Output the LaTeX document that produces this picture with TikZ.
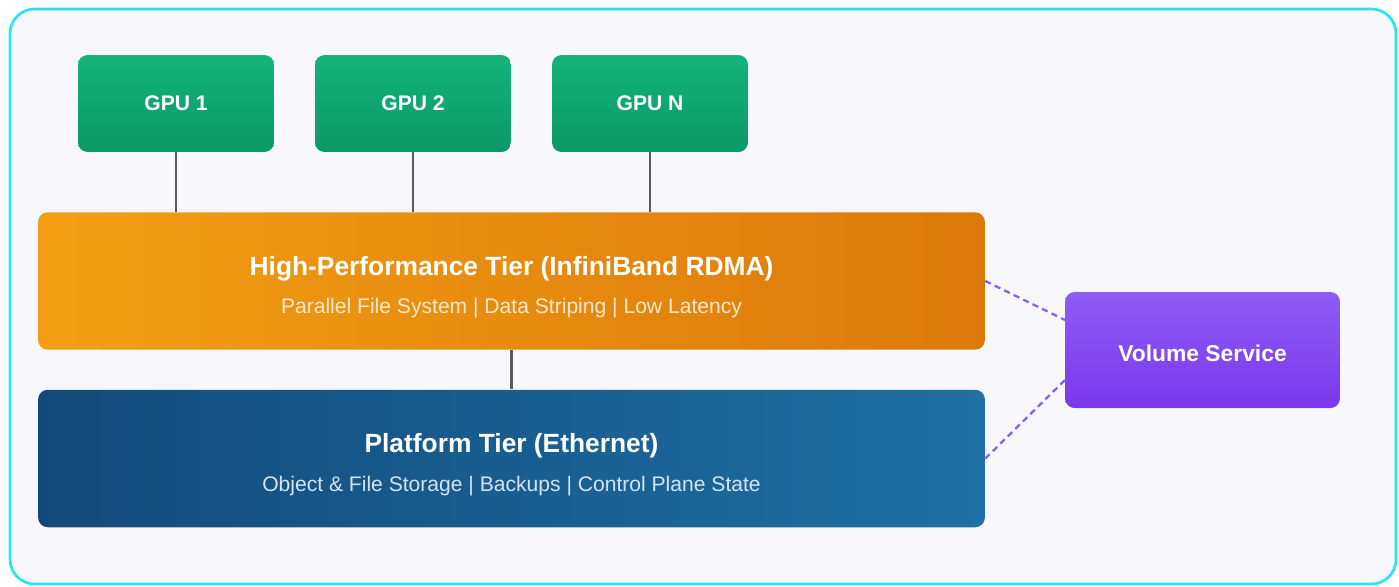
\documentclass[tikz,border=0pt]{standalone}
\usepackage{fontspec}
\setmainfont{Liberation Sans}
\definecolor{gpuTop}{HTML}{13B47C}
\definecolor{gpuBot}{HTML}{0B9867}
\definecolor{hpcLeft}{HTML}{F39E14}
\definecolor{hpcRight}{HTML}{DC790B}
\definecolor{platLeft}{HTML}{134A7B}
\definecolor{platRight}{HTML}{1F70A4}
\definecolor{volTop}{HTML}{8D5DF6}
\definecolor{volBot}{HTML}{7A38EA}
\definecolor{frameCol}{HTML}{22E6F2}
\definecolor{paper}{HTML}{F8F8FC}
\definecolor{wire}{HTML}{5A5A5E}
\definecolor{hpcSub}{HTML}{FDEACB}
\definecolor{platSub}{HTML}{D3E3F1}
\newcommand\subfont{\mdseries\fontsize{12}{14}\selectfont}
\newcommand\topgap{\rule{0pt}{18pt}}
\begin{document}
\begin{tikzpicture}[x=0.02cm,y=-0.02cm,
    box/.style={rounded corners=5.5pt,text=white,inner sep=0pt,align=center,
      font=\bfseries\fontsize{12}{14}\selectfont},
    gpubox/.style={box,top color=gpuTop,bottom color=gpuBot,
      minimum width=3.92cm,minimum height=1.94cm},
    tierbox/.style={box,minimum width=18.94cm,minimum height=2.75cm,
      font=\bfseries\fontsize{15}{18}\selectfont},
    volbox/.style={box,top color=volTop,bottom color=volBot,
      minimum width=5.5cm,minimum height=2.32cm,
      font=\bfseries\fontsize{13}{15}\selectfont},
    link/.style={draw=wire,line width=1.3pt},
    mgmt/.style={draw=volTop,line width=1.3pt,dash pattern=on 3.5pt off 2.5pt}]
  \useasboundingbox (0,0) rectangle (1399,586);
  \draw[frameCol,line width=1.5pt,fill=paper,rounded corners=14pt] (10,9) rectangle (1396,584);

  % compute nodes
  \node[gpubox] (gpu1) at (176,103.5) {GPU 1};
  \node[gpubox] (gpu2) at (413,103.5) {GPU 2};
  \node[gpubox] (gpun) at (650,103.5) {GPU N};

  % storage tiers
  \node[tierbox,left color=hpcLeft,right color=hpcRight] (hpc) at (511.5,281)
    {\topgap High-Performance Tier (InfiniBand RDMA)\\[4pt]
     {\subfont\color{hpcSub}Parallel File System | Data Striping | Low Latency}};
  \node[tierbox,left color=platLeft,right color=platRight] (plat) at (511.5,458.5)
    {\topgap Platform Tier (Ethernet)\\[4pt]
     {\subfont\color{platSub}Object \& File Storage | Backups | Control Plane State}};

  \node[volbox] (vol) at (1202.5,350) {\rule{0pt}{13pt}Volume Service};
  \coordinate (volhi) at (1065,320);
  \coordinate (vollo) at (1065,380);

  \begin{scope}
    \draw[link] (gpu1.south) -- (gpu1 |- hpc.north);
    \draw[link] (gpu2.south) -- (gpu2 |- hpc.north);
    \draw[link] (gpun.south) -- (gpun |- hpc.north);
    \draw[link] (hpc.south) -- (plat.north);
    \draw[mgmt] (hpc.east) -- (volhi);
    \draw[mgmt] (plat.east) -- (vollo);
  \end{scope}
\end{tikzpicture}
\end{document}
